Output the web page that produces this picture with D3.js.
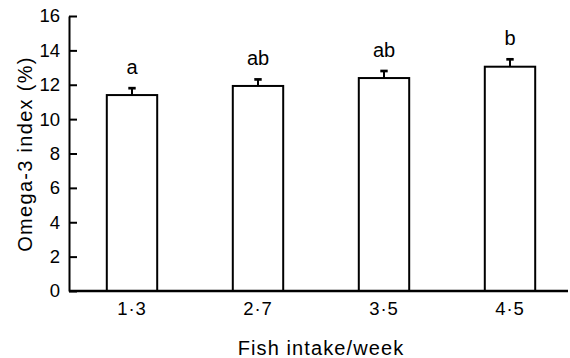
<!DOCTYPE html>
<html>
<head>
<meta charset="utf-8">
<script src="https://cdn.jsdelivr.net/npm/d3@7"></script>
<style>
  body { margin: 0; background: #fff; }
  text { font-family: "Liberation Sans", Arial, sans-serif; fill: #000; }
</style>
</head>
<body>
<svg width="570" height="358"></svg>
<script>
// chart data
const categories = ["1·3", "2·7", "3·5", "4·5"];
const values = [11.4, 11.93, 12.39, 13.05];
const errors = [0.4, 0.38, 0.41, 0.43];
const letters = ["a", "ab", "ab", "b"];
const yTicks = [0, 2, 4, 6, 8, 10, 12, 14, 16];

// Dimensions
const width = 570;
const height = 358;
const margin = { top: 16, right: -3, bottom: 67, left: 69 };

const svg = d3.select("svg");

// X scale
const x = d3.scaleBand()
  .domain(categories)
  .range([margin.left, width - margin.right])
  .paddingInner(0.6)
  .paddingOuter(0.3);

// Y scale
const y = d3.scaleLinear()
  .domain([0, 16])
  .range([height - margin.bottom, margin.top]);

// Y axis, ticks point inwards
const yAxis = svg.append("g")
  .attr("transform", `translate(${margin.left},0)`)
  .call(d3.axisLeft(y).tickValues(yTicks).tickSizeInner(-8).tickSizeOuter(0).tickPadding(9));
yAxis.select(".domain").attr("stroke-width", 2);
yAxis.selectAll(".tick line").attr("stroke-width", 2);
yAxis.selectAll(".tick text")
  .style("font-size", "18.5px")
  .attr("fill", "#000");

// Bars
svg.selectAll("rect.bar")
  .data(values)
  .enter().append("rect")
  .attr("class", "bar")
  .attr("x", (d, i) => x(categories[i]))
  .attr("y", d => y(d))
  .attr("width", x.bandwidth())
  .attr("height", d => y(0) - y(d))
  .attr("fill", "#fff")
  .attr("stroke", "#000")
  .attr("stroke-width", 2);

// Error bars (upper only)
const err = svg.selectAll("g.err")
  .data(values)
  .enter().append("g")
  .attr("class", "err");
err.append("line")
  .attr("x1", (d, i) => x(categories[i]) + x.bandwidth() / 2)
  .attr("x2", (d, i) => x(categories[i]) + x.bandwidth() / 2)
  .attr("y1", d => y(d))
  .attr("y2", (d, i) => y(d + errors[i]))
  .attr("stroke", "#000")
  .attr("stroke-width", 2);
err.append("line")
  .attr("x1", (d, i) => x(categories[i]) + x.bandwidth() / 2 - 3.7)
  .attr("x2", (d, i) => x(categories[i]) + x.bandwidth() / 2 + 3.7)
  .attr("y1", (d, i) => y(d + errors[i]))
  .attr("y2", (d, i) => y(d + errors[i]))
  .attr("stroke", "#000")
  .attr("stroke-width", 2.7);

// Significance letters
svg.selectAll("text.letter")
  .data(values)
  .enter().append("text")
  .attr("class", "letter")
  .attr("x", (d, i) => x(categories[i]) + x.bandwidth() / 2)
  .attr("y", (d, i) => y(d + errors[i]) - 14)
  .attr("text-anchor", "middle")
  .style("font-size", "20px")
  .text((d, i) => letters[i]);

// X axis line
svg.append("line")
  .attr("x1", margin.left)
  .attr("x2", 568)
  .attr("y1", y(0))
  .attr("y2", y(0))
  .attr("stroke", "#000")
  .attr("stroke-width", 2.5);

// X tick labels
svg.selectAll("text.xlab")
  .data(categories)
  .enter().append("text")
  .attr("class", "xlab")
  .attr("x", d => x(d) + x.bandwidth() / 2)
  .attr("y", 315)
  .attr("text-anchor", "middle")
  .style("font-size", "18.5px")
  .style("letter-spacing", "1px")
  .text(d => d);

// Axis titles
svg.append("text")
  .attr("x", (margin.left + width - margin.right) / 2)
  .attr("y", 355)
  .attr("text-anchor", "middle")
  .style("font-size", "20px")
  .style("letter-spacing", "1.1px")
  .text("Fish intake/week");

svg.append("text")
  .attr("transform", `translate(32,154) rotate(-90)`)
  .attr("text-anchor", "middle")
  .style("font-size", "20px")
  .style("letter-spacing", "1.3px")
  .text("Omega-3 index (%)");
</script>
</body>
</html>
